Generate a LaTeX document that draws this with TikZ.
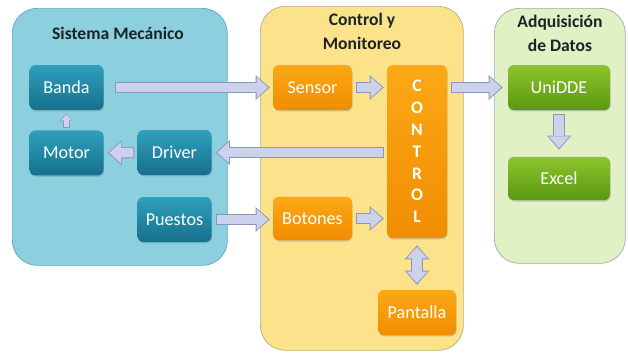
\documentclass[tikz,border=0pt]{standalone}
\usepackage{fontspec}
\setmainfont{Carlito}
\usepackage{tikz}
\usetikzlibrary{positioning,calc,arrows.meta,shadows}

\definecolor{mechfill}{HTML}{8CCFDE}
\definecolor{mechline}{HTML}{5FA6B8}
\definecolor{ctrlfill}{HTML}{FCE28A}
\definecolor{ctrlline}{HTML}{B5AE78}
\definecolor{acqfill}{HTML}{E2F0C6}
\definecolor{acqline}{HTML}{8FB4A2}
\definecolor{bluetop}{HTML}{2FA0BD}
\definecolor{bluebot}{HTML}{16708C}
\definecolor{orangetop}{HTML}{FBA817}
\definecolor{orangebot}{HTML}{F08D00}
\definecolor{greentop}{HTML}{8CC42C}
\definecolor{greenbot}{HTML}{5B9812}
\definecolor{arrowfill}{HTML}{CDD2EC}
\definecolor{arrowline}{HTML}{8C95BC}
\definecolor{titletext}{HTML}{1C2328}

\tikzset{
  panel/.style={draw=#1line, fill=#1fill, line width=0.6pt, rounded corners=7.5mm, anchor=north west},
  paneltitle/.style={font=\bfseries\fontsize{15}{20.5}\selectfont, text=titletext, align=center},
  block/.style={rounded corners=1.8mm, minimum height=13.5mm, text=white, font=\fontsize{15.5}{18}\selectfont,
    top color=#1top, bottom color=#1bot, drop shadow={shadow xshift=0.5pt, shadow yshift=-1.2pt, opacity=0.35}},
  fattip/.tip={Triangle[length=12pt,width=21pt,line width=0pt]},
  slimtip/.tip={Triangle[length=10pt,width=18pt,line width=0pt]},
  flowarrow/.style 2 args={draw=arrowfill, line width=8pt, shorten <=#1, shorten >=#2+1.3pt, -{slimtip},
    preaction={draw=arrowline, line width=9.6pt, shorten <=#1-0.8pt, shorten >=#2, -{fattip}}},
  flowboth/.style 2 args={draw=arrowfill, line width=8pt, shorten <=#1+1.3pt, shorten >=#2+1.3pt, {slimtip}-{slimtip},
    preaction={draw=arrowline, line width=9.6pt, shorten <=#1, shorten >=#2, {fattip}-{fattip}}},
  tinyarrow/.style 2 args={draw=arrowfill, line width=4pt, shorten <=#1, shorten >=#2+1pt,
    -{Triangle[length=5pt,width=9pt,line width=0pt]},
    preaction={draw=arrowline, line width=5.4pt, shorten <=#1-0.7pt, shorten >=#2,
      -{Triangle[length=6.5pt,width=11pt,line width=0pt]}}}
}

\begin{document}
\begin{tikzpicture}[x=0.3mm, y=-0.3mm]
    \useasboundingbox (0,0) rectangle (628,353);

    %coordinates
    \coordinate (mechNW) at (12,8);
    \coordinate (ctrlNW) at (260,6);
    \coordinate (acqNW)  at (494,8);

    %panels
    \node[panel=mech, minimum width=64.5mm, minimum height=77.1mm] (mech) at (mechNW) {};
    \node[panel=ctrl, minimum width=60.9mm, minimum height=103.2mm] (ctrl) at (ctrlNW) {};
    \node[panel=acq, minimum width=39.3mm, minimum height=76.5mm] (acq) at (acqNW) {};

    \node[paneltitle] (mechT) at ($(mechNW)+(106,25)$) {Sistema Mecánico};
    \node[paneltitle] (ctrlT) at ($(ctrlNW)+(102,25)$) {Control y\\Monitoreo};
    \node[paneltitle] (acqT)  at ($(acqNW)+(66,25)$) {Adquisición\\de Datos};

    %nodes
    \node[block=blue, minimum width=22.2mm] (Banda) at ($(mechNW)+(54.5,79.5)$) {Banda};
    \node[block=blue, minimum width=22.2mm, below=6mm of Banda] (Motor) {Motor};
    \node[block=blue, minimum width=22.2mm] (Driver) at ($(mechNW)+(162.5,144.5)$) {Driver};
    \node[block=blue, minimum width=22.2mm] (Puestos) at ($(mechNW)+(162.5,211.5)$) {Puestos};

    \node[block=orange, minimum width=23.7mm] (Sensor) at ($(ctrlNW)+(52.5,81.5)$) {Sensor};
    \node[block=orange, minimum width=23.7mm, minimum height=13mm] (Botones) at ($(ctrlNW)+(52.5,212.5)$) {Botones};
    \node[block=orange, minimum width=18mm, minimum height=51.9mm, align=center,
          font=\bfseries\fontsize{15}{18.6}\selectfont] (control) at ($(ctrlNW)+(157,145.5)$) {C\\O\\N\\T\\R\\O\\L};
    \node[block=orange, minimum width=23.4mm] (Pantalla) at ($(ctrlNW)+(157,306.5)$) {Pantalla};

    \node[block=green, minimum width=30.6mm] (UniDDE) at ($(acqNW)+(65,79.5)$) {UniDDE};
    \node[block=green, minimum width=30.6mm, minimum height=13mm] (Excel) at ($(acqNW)+(65,170.5)$) {Excel};

    %edges
    \draw[flowarrow={3.6mm}{0.9mm}] (Banda.east) -- (Sensor.west);
    \draw[tinyarrow={0.9mm}{0.9mm}] (Motor.north) -- (Banda.south);
    \draw[flowarrow={1.2mm}{1.2mm}] (Driver.west) -- (Motor.east);
    \draw[flowarrow={1.2mm}{1.2mm}] (control.west |- Driver.east) -- (Driver.east);
    \draw[flowarrow={1.5mm}{0.9mm}] (Puestos.east) -- (Puestos.east -| Botones.west);

    \draw[flowarrow={1.5mm}{0.9mm}] (Sensor.east) -- (Sensor.east -| control.west);
    \draw[flowarrow={1.5mm}{0.9mm}] (Botones.east) -- (Botones.east -| control.west);
    \draw[flowboth={2.1mm}{1.5mm}] (control.south) -- (Pantalla.north);

    \draw[flowarrow={1.5mm}{1.5mm}] (control.east |- UniDDE.west) -- (UniDDE.west);
    \draw[flowarrow={1.5mm}{2.1mm}] (UniDDE.south) -- (Excel.north);
\end{tikzpicture}
\end{document}
